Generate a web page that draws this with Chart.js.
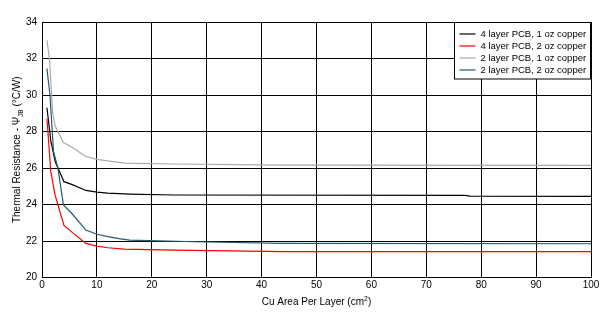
<!DOCTYPE html>
<html>
<head>
<meta charset="utf-8">
<script src="https://cdn.jsdelivr.net/npm/chart.js@4.4.1/dist/chart.umd.min.js"></script>
<style>
html,body{margin:0;padding:0;background:#fff;}
#wrap{width:613px;height:318px;position:relative;}
</style>
</head>
<body>
<div id="wrap"><canvas id="c" width="613" height="318"></canvas></div>
<script>
// Series labels
const seriesLabels = ["4 layer PCB, 1 oz copper", "4 layer PCB, 2 oz copper", "2 layer PCB, 1 oz copper", "2 layer PCB, 2 oz copper"];
const seriesColors = ["#000000", "#ff0000", "#a9a9a9", "#235a70"];

// 4 layer, 1 oz
const xBlack = [0.9, 1.6, 2.4, 4, 5.4, 8, 10, 12, 16, 24, 77, 78, 100];
const yBlack = [29.3, 27.5, 26.35, 25.25, 25.1, 24.77, 24.68, 24.62, 24.57, 24.52, 24.5, 24.46, 24.45];
// 4 layer, 2 oz
const xRed = [0.9, 1.2, 1.6, 2.4, 4, 5.4, 8, 10, 12, 15, 24, 44, 100];
const yRed = [28.7, 27.5, 25.8, 24.5, 22.85, 22.5, 21.87, 21.72, 21.63, 21.56, 21.5, 21.42, 21.42];
// 2 layer, 1 oz
const xGray = [0.9, 1.35, 1.95, 2.4, 3.9, 5.4, 7.9, 10, 15, 24, 44, 100];
const yGray = [33.0, 32.0, 29.0, 28.3, 27.4, 27.15, 26.64, 26.47, 26.27, 26.22, 26.16, 26.14];
// 2 layer, 2 oz
const xBlue = [0.9, 1.45, 2.1, 2.9, 3.9, 5.4, 8, 10, 12, 14, 16, 28, 44, 100];
const yBlue = [31.45, 30.0, 26.9, 26.0, 23.98, 23.52, 22.6, 22.37, 22.24, 22.13, 22.05, 21.96, 21.87, 21.85];

// Axes
const xTickMin = 0, xTickMax = 100, xTickStep = 10;
const yTickMin = 20, yTickMax = 34, yTickStep = 2;
const xTitleMain = "Cu Area Per Layer (cm";
const xTitleSup = "2";
const xTitleEnd = ")";
const yTitleMain = "Thermal Resistance - Ψ";
const yTitleSub = "JB";
const yTitleEnd = " (°C/W)";

const FONT = '"Liberation Sans", Arial, sans-serif';

function pts(xs, ys){ return xs.map((x,i)=>({x:x, y:ys[i]})); }

const seriesX = [xBlack, xRed, xGray, xBlue];
const seriesY = [yBlack, yRed, yGray, yBlue];

const datasets = seriesLabels.map((lab,i)=>({
  label: lab,
  data: pts(seriesX[i], seriesY[i]),
  borderColor: seriesColors[i],
  backgroundColor: seriesColors[i],
  borderWidth: 1.2,
  pointRadius: 0,
  tension: 0,
  fill: false
}));
datasets[2].order = 4; datasets[0].order = 3; datasets[3].order = 2; datasets[1].order = 1;

const customDraw = {
  id: 'customDraw',
  afterDraw(chart){
    const ctx = chart.ctx;
    const ca = chart.chartArea;
    ctx.save();
    // legend box
    const bw = 136, bh = 56.5;
    const bx = Math.round(ca.right) - bw - 0.5, by = Math.round(ca.top) + 0.5;
    ctx.fillStyle = '#fff';
    ctx.fillRect(bx, by, bw, bh);
    ctx.strokeStyle = '#000';
    ctx.lineWidth = 1;
    ctx.strokeRect(bx, by, bw, bh);
    ctx.font = '9.5px ' + FONT;
    ctx.textBaseline = 'middle';
    ctx.textAlign = 'left';
    seriesLabels.forEach((lab,i)=>{
      const ry = by + 11.5 + i*12;
      ctx.strokeStyle = seriesColors[i];
      ctx.lineWidth = 1.2;
      ctx.beginPath();
      ctx.moveTo(bx + 5, ry);
      ctx.lineTo(bx + 21, ry);
      ctx.stroke();
      ctx.fillStyle = '#000';
      ctx.fillText(lab, bx + 26, ry + 0.5);
    });

    // x title with superscript
    ctx.fillStyle = '#000';
    ctx.textBaseline = 'alphabetic';
    const cx = (ca.left + ca.right)/2;
    ctx.font = '10px ' + FONT;
    const w1 = ctx.measureText(xTitleMain).width;
    const w3 = ctx.measureText(xTitleEnd).width;
    ctx.font = '7px ' + FONT;
    const w2 = ctx.measureText(xTitleSup).width;
    let sx = cx - (w1+w2+w3)/2;
    const ty = 305;
    ctx.font = '10px ' + FONT;
    ctx.fillText(xTitleMain, sx, ty);
    ctx.font = '7px ' + FONT;
    ctx.fillText(xTitleSup, sx + w1, ty - 4);
    ctx.font = '10px ' + FONT;
    ctx.fillText(xTitleEnd, sx + w1 + w2, ty);

    // y title with subscript (rotated)
    const cy = (ca.top + ca.bottom)/2;
    ctx.translate(20, cy);
    ctx.rotate(-Math.PI/2);
    ctx.font = '10px ' + FONT;
    const v1 = ctx.measureText(yTitleMain).width;
    const v3 = ctx.measureText(yTitleEnd).width;
    ctx.font = '6.5px ' + FONT;
    const v2 = ctx.measureText(yTitleSub).width;
    let s = -(v1+v2+v3)/2;
    ctx.font = '10px ' + FONT;
    ctx.fillText(yTitleMain, s, 0);
    ctx.font = '6.5px ' + FONT;
    ctx.fillText(yTitleSub, s + v1, 2.5);
    ctx.font = '10px ' + FONT;
    ctx.fillText(yTitleEnd, s + v1 + v2, 0);
    ctx.restore();
  }
};

new Chart(document.getElementById('c'), {
  type: 'line',
  data: { datasets: datasets },
  options: {
    responsive: false,
    animation: false,
    devicePixelRatio: 1,
    layout: { padding: { left: 0, right: 22, top: 22, bottom: 0 } },
    plugins: { legend: { display: false }, tooltip: { enabled: false } },
    scales: {
      x: {
        type: 'linear',
        min: xTickMin, max: xTickMax,
        ticks: { stepSize: xTickStep, color: '#000', font: { family: FONT, size: 10 }, padding: 2, maxRotation: 0 },
        grid: { color: '#000', lineWidth: 1, drawTicks: false, tickLength: 0 },
        border: { color: '#000', width: 1 },
        afterFit(scale){ scale.height = 40.5; }
      },
      y: {
        type: 'linear',
        min: yTickMin, max: yTickMax,
        ticks: { stepSize: yTickStep, color: '#000', font: { family: FONT, size: 10 }, padding: 5 },
        grid: { color: '#000', lineWidth: 1, drawTicks: false, tickLength: 0 },
        border: { color: '#000', width: 1 },
        afterFit(scale){ scale.width = 42; }
      }
    }
  },
  plugins: [customDraw]
});
</script>
</body>
</html>
